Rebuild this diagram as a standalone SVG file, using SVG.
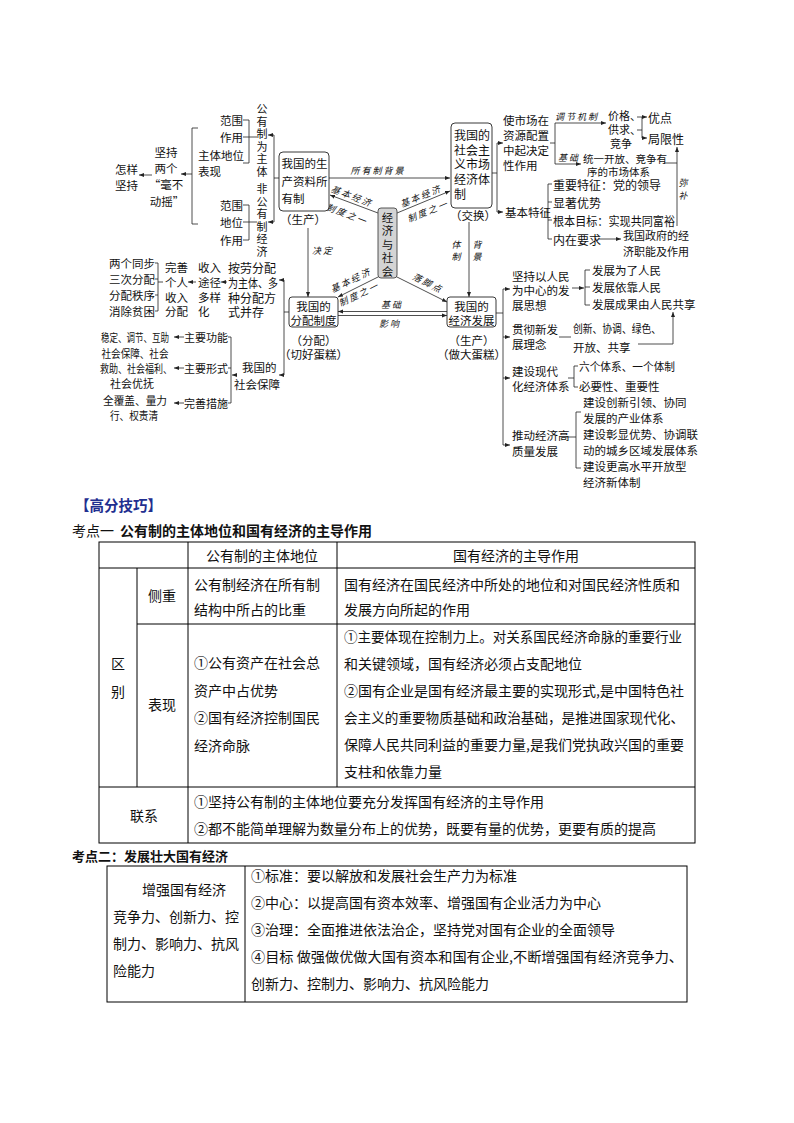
<svg xmlns="http://www.w3.org/2000/svg" width="794" height="1123" viewBox="0 0 794 1123">
<defs>
<style>
text{font-family:"Noto Sans CJK SC","Noto Sans",sans-serif;fill:#111;dominant-baseline:central}
.t{font-size:11.5px}
.b{font-size:12px}
.v{font-size:11px;text-anchor:middle}
.s{font-size:9px;font-style:italic;letter-spacing:2px}
.c{text-anchor:middle}
.e{text-anchor:end}
.tb{font-size:14px}
.ln{stroke:#222;stroke-width:0.8;fill:none}
.ar{marker-end:url(#ah)}
.box{fill:#fff;stroke:#222;stroke-width:0.9}
.tl{stroke:#000;stroke-width:1;fill:none}
.cv{font-size:11.5px;text-anchor:middle}
</style>
<marker id="ah" viewBox="0 0 10 10" refX="10" refY="5" markerWidth="5" markerHeight="5" markerUnits="userSpaceOnUse" orient="auto"><path d="M0,1 L10,5 L0,9 z" fill="#222"/></marker>
</defs>
<rect width="794" height="1123" fill="#fff"/>

<g id="connectors">
<path class="ln ar" d="M152,175 H139"/>
<path class="ln ar" d="M192,174 H181"/>
<path class="ln" d="M198,128 H192 V224 H198"/>
<path class="ln" d="M243,120 H249 V163 H243 M243,137 H257"/>
<path class="ln" d="M243,205 H249 V240 H243 M243,222 H257"/>
<path class="ln" d="M279,178 H274 M274,135 V222"/>
<path class="ln ar" d="M274,135 H268"/>
<path class="ln ar" d="M274,222 H268"/>
<path class="ln ar" d="M378,213 L330,195"/>
<path class="ln ar" d="M397,213 L450,191"/>
<path class="ln ar" d="M378,277 L338,297"/>
<path class="ln ar" d="M397,277 L447,302"/>
<path class="ln ar" d="M329,178 H450"/>
<path class="ln ar" d="M308,228 V297"/>
<path class="ln ar" d="M469,222 V297"/>
<path class="ln ar" d="M447,311.5 H338"/>
<path class="ln ar" d="M338,315.5 H447"/>
<path class="ln" d="M492,173 H497 M497,143 V212"/>
<path class="ln ar" d="M497,143 H503"/>
<path class="ln ar" d="M497,212 H503"/>
<path class="ln" d="M550,143 H555 M555,123 V164"/>
<path class="ln ar" d="M555,123 H606"/>
<path class="ln ar" d="M555,164 H581"/>
<path class="ln" d="M637,117 H642 M637,130 H642 M642,117 V138"/>
<path class="ln ar" d="M642,117 H647"/>
<path class="ln ar" d="M642,138 H647"/>
<path class="ln" d="M664,163 H677"/>
<path class="ln ar" d="M677,226 V147"/>
<path class="ln" d="M544,212 H548 M548,184 V239 M548,184 H552 M548,202 H552 M548,220 H552 M548,239 H552"/>
<path class="ln ar" d="M599,239 H621"/>
<path class="ln" d="M496,313 H503 M503,289 V445"/>
<path class="ln ar" d="M503,289 H510"/>
<path class="ln ar" d="M503,337 H510"/>
<path class="ln ar" d="M503,378 H510"/>
<path class="ln ar" d="M503,445 H510"/>
<path class="ln ar" d="M572,288 H584"/>
<path class="ln" d="M585,270 V305 M585,270 H590 M585,287 H590 M585,305 H590"/>
<path class="ln" d="M559,337 H571"/>
<path class="ln ar" d="M638,344 H673 V312"/>
<path class="ln" d="M568,378 H574 M574,366 V387 M574,366 H578 M574,387 H578"/>
<path class="ln" d="M566,437 H576 M576,412 V468 M576,412 H581 M576,468 H581"/>
<path class="ln" d="M289,312 H284 M284,280 V375"/>
<path class="ln ar" d="M284,280 H279"/>
<path class="ln ar" d="M284,375 H279"/>
<path class="ln ar" d="M227,282 H221"/>
<path class="ln ar" d="M196,282 H188"/>
<path class="ln" d="M155,263 H158 V311 H155 M155,279 H158 M155,295 H158 M158,282 H163"/>
<path class="ln ar" d="M237,375 H232"/>
<path class="ln" d="M231,337 V403 M228,337 H231 M228,368 H231 M228,403 H231"/>
<path class="ln ar" d="M184,337 H174"/>
<path class="ln ar" d="M184,368 H174"/>
<path class="ln ar" d="M184,403 H174"/>
</g>

<g id="connector-labels">
<text class="s c" x="378" y="170">所有制背景</text>
<text class="s c" x="323" y="250">决定</text>
<text class="s c"><tspan x="457" y="244">体</tspan><tspan x="457" y="256">制</tspan></text>
<text class="s c"><tspan x="478" y="244">背</tspan><tspan x="478" y="256">景</tspan></text>
<text class="s c" x="392" y="304">基础</text>
<text class="s c" x="390" y="323">影响</text>
<text class="s c" transform="translate(352,196) rotate(21)">基本经济</text>
<text class="s c" transform="translate(347,214) rotate(21)">制度之一</text>
<text class="s c" transform="translate(421,196) rotate(-22)">基本经济</text>
<text class="s c" transform="translate(428,211) rotate(-22)">制度之一</text>
<text class="s c" transform="translate(351,280) rotate(-26)">基本经济</text>
<text class="s c" transform="translate(359,294) rotate(-26)">制度之一</text>
<text class="s c" transform="translate(428,283) rotate(27)">落脚点</text>
<text class="s c" x="577" y="116">调节机制</text>
<text class="s c" x="569" y="157">基础</text>
<text class="s c"><tspan x="684" y="182">弥</tspan><tspan x="684" y="195">补</tspan></text>
</g>

<g id="n-zenyang"><text class="t"><tspan x="115" y="169">怎样</tspan><tspan x="115" y="185">坚持</tspan></text></g>
<g id="n-liangge">
<text class="t c"><tspan x="166" y="152">坚持</tspan><tspan x="166" y="168">两个</tspan><tspan x="166" y="184">“毫不</tspan><tspan x="167" y="201">动摇”</tspan></text>
</g>
<g id="n-zhuti"><text class="t"><tspan x="198" y="155">主体地位</tspan><tspan x="198" y="171">表现</tspan></text></g>
<g id="n-fw1"><text class="t e"><tspan x="243" y="120">范围</tspan><tspan x="243" y="137">作用</tspan></text></g>
<g id="n-fw2"><text class="t e"><tspan x="243" y="205">范围</tspan><tspan x="243" y="222">地位</tspan><tspan x="243" y="240">作用</tspan></text></g>
<g id="n-gongyou">
<text class="v"><tspan x="262" y="108">公</tspan><tspan x="262" y="120.6">有</tspan><tspan x="262" y="133.2">制</tspan><tspan x="262" y="145.8">为</tspan><tspan x="262" y="158.4">主</tspan><tspan x="262" y="171">体</tspan></text>
</g>
<g id="n-feigongyou">
<text class="v"><tspan x="262" y="188">非</tspan><tspan x="262" y="200.6">公</tspan><tspan x="262" y="213.2">有</tspan><tspan x="262" y="225.8">制</tspan><tspan x="262" y="238.4">经</tspan><tspan x="262" y="251">济</tspan></text>
</g>

<g id="n-ownership">
<rect class="box" x="279" y="152" width="50" height="59" rx="4"/>
<text class="t"><tspan x="281.5" y="163">我国的生</tspan><tspan x="281.5" y="181">产资料所</tspan><tspan x="281.5" y="198">有制</tspan></text>
<text class="t" x="280" y="219">（生产）</text>
</g>
<g id="n-market">
<rect class="box" x="451" y="123" width="41" height="85" rx="4"/>
<text class="b"><tspan x="454" y="134">我国的</tspan><tspan x="454" y="148.5">社会主</tspan><tspan x="454" y="163">义市场</tspan><tspan x="454" y="178">经济体</tspan><tspan x="454" y="192.5">制</tspan></text>
<text class="t" x="450" y="215">（交换）</text>
</g>
<g id="n-center">
<rect x="378" y="208" width="19" height="70" rx="3" fill="#d4d4d4" stroke="#444" stroke-width="0.9"/>
<text class="cv"><tspan x="387.5" y="216.5">经</tspan><tspan x="387.5" y="230">济</tspan><tspan x="387.5" y="243.5">与</tspan><tspan x="387.5" y="257">社</tspan><tspan x="387.5" y="270.5">会</tspan></text>
</g>
<g id="n-distribution">
<rect class="box" x="289" y="297" width="49" height="30" rx="3"/>
<text class="t c"><tspan x="313.5" y="306">我国的</tspan><tspan x="313.5" y="320">分配制度</tspan></text>
<text class="t c"><tspan x="313.5" y="340">（分配）</tspan><tspan x="313.5" y="354">（切好蛋糕）</tspan></text>
</g>
<g id="n-development">
<rect class="box" x="447" y="297" width="49" height="30" rx="3"/>
<text class="t c"><tspan x="471.5" y="306">我国的</tspan><tspan x="471.5" y="320">经济发展</tspan></text>
<text class="t c"><tspan x="471.5" y="340">（生产）</tspan><tspan x="471.5" y="354">（做大蛋糕）</tspan></text>
</g>

<g id="n-decisive">
<text class="t"><tspan x="503" y="120">使市场在</tspan><tspan x="503" y="135">资源配置</tspan><tspan x="503" y="150">中起决定</tspan><tspan x="503" y="165">性作用</tspan></text>
</g>
<g id="n-price"><text class="t" style="font-size:11px"><tspan x="608" y="115">价格、</tspan><tspan x="608" y="129">供求、</tspan><tspan x="610" y="143">竞争</tspan></text></g>
<g id="n-merit"><text class="b" x="648" y="117">优点</text></g>
<g id="n-limit"><text class="b" x="648" y="138">局限性</text></g>
<g id="n-system"><text class="t" style="font-size:10.5px"><tspan x="583" y="158">统一开放、竞争有</tspan><tspan x="587" y="171">序的市场体系</tspan></text></g>
<g id="n-features">
<text class="t" x="505" y="212">基本特征</text>
<text class="b" x="553" y="184">重要特征：党的领导</text>
<text class="b" x="553" y="202">显著优势</text>
<text class="b" x="553" y="220" textLength="122" lengthAdjust="spacingAndGlyphs">根本目标：实现共同富裕</text>
<text class="b" x="553" y="239">内在要求</text>
</g>
<g id="n-gov"><text class="t" style="font-size:11px"><tspan x="623" y="235">我国政府的经</tspan><tspan x="623" y="251">济职能及作用</tspan></text></g>

<g id="n-people">
<text class="t"><tspan x="512" y="276">坚持以人民</tspan><tspan x="512" y="290">为中心的发</tspan><tspan x="512" y="305">展思想</tspan></text>
<text class="t" x="592" y="270">发展为了人民</text><text class="t" x="592" y="287">发展依靠人民</text><text class="t" x="592" y="304">发展成果由人民共享</text>
</g>
<g id="n-concept">
<text class="t"><tspan x="512" y="329">贯彻新发</tspan><tspan x="512" y="344">展理念</tspan></text>
<text class="t" x="573" y="328" textLength="88" lengthAdjust="spacingAndGlyphs">创新、协调、绿色、</text>
<text class="t" x="573" y="347">开放、共享</text>
</g>
<g id="n-modern">
<text class="t"><tspan x="512" y="371">建设现代</tspan><tspan x="512" y="386">化经济体系</tspan></text>
<text class="t" x="579" y="366" textLength="96" lengthAdjust="spacingAndGlyphs">六个体系、一个体制</text>
<text class="t" x="579" y="386">必要性、重要性</text>
</g>
<g id="n-quality">
<text class="t"><tspan x="512" y="435">推动经济高</tspan><tspan x="512" y="451">质量发展</tspan></text>
<text class="t"><tspan x="583" y="402">建设创新引领、协同</tspan><tspan x="583" y="418">发展的产业体系</tspan></text>
<text class="t"><tspan x="583" y="434">建设彰显优势、协调联</tspan><tspan x="583" y="450">动的城乡区域发展体系</tspan></text>
<text class="t"><tspan x="583" y="466">建设更高水平开放型</tspan><tspan x="583" y="482">经济新体制</tspan></text>
</g>

<g id="n-anlao">
<text class="b" x="228" y="267">按劳分配</text>
<text class="b" x="228" y="282" textLength="50" lengthAdjust="spacingAndGlyphs">为主体、多</text>
<text class="b" x="228" y="297">种分配方</text><text class="b" x="228" y="311">式并存</text>
</g>
<g id="n-income"><text class="t"><tspan x="198" y="267">收入</tspan><tspan x="198" y="282">途径</tspan><tspan x="198" y="297">多样</tspan><tspan x="198" y="311">化</tspan></text></g>
<g id="n-perfect"><text class="t"><tspan x="165" y="267">完善</tspan><tspan x="165" y="282">个人</tspan><tspan x="165" y="297">收入</tspan><tspan x="165" y="311">分配</tspan></text></g>
<g id="n-four">
<text class="t e" x="155" y="263">两个同步</text><text class="t e" x="155" y="279">三次分配</text>
<text class="t e" x="155" y="295">分配秩序</text><text class="t e" x="155" y="311">消除贫困</text>
</g>
<g id="n-security"><text class="t"><tspan x="242" y="367">我国的</tspan><tspan x="234" y="384">社会保障</tspan></text></g>
<g id="n-sec-items">
<text class="t e" style="font-size:11px" x="228" y="337">主要功能</text>
<text class="t e" style="font-size:11px" x="228" y="368">主要形式</text>
<text class="t e" style="font-size:11px" x="228" y="403">完善措施</text>
</g>
<g id="n-sec-func"><text class="t e" style="font-size:11px" x="169" y="337" textLength="68" lengthAdjust="spacingAndGlyphs">稳定、调节、互助</text></g>
<g id="n-sec-form">
<text class="t c" style="font-size:11px" x="135" y="353" textLength="67" lengthAdjust="spacingAndGlyphs">社会保障、社会</text>
<text class="t c" style="font-size:11px" x="136" y="368" textLength="72" lengthAdjust="spacingAndGlyphs">救助、社会福利、</text>
<text class="t c" style="font-size:11px" x="132" y="383">社会优抚</text>
</g>
<g id="n-sec-measure">
<text class="t c" style="font-size:11px" x="135" y="400" textLength="64" lengthAdjust="spacingAndGlyphs">全覆盖、量力</text>
<text class="t c" style="font-size:11px" x="134" y="415" textLength="48" lengthAdjust="spacingAndGlyphs">行、权责清</text>
</g>

<g id="headings">
<text x="75" y="504" style="font-size:14.5px;font-weight:bold;fill:#1f2f90">【高分技巧】</text>
<text x="72" y="530" style="font-size:14px"><tspan>考点一</tspan><tspan dx="6" style="font-weight:bold">公有制的主体地位和国有经济的主导作用</tspan></text>
<text x="72" y="855" style="font-size:13px;font-weight:bold">考点二：发展壮大国有经济</text>
</g>

<g id="table1">
<rect class="tl" x="99" y="542" width="596" height="301"/>
<path class="tl" d="M99,568 H695 M137,624 H695 M99,787 H695 M137,568 V787 M188,542 V843 M337,542 V787"/>
<text class="tb c" x="262" y="555">公有制的主体地位</text>
<text class="tb c" x="516" y="555">国有经济的主导作用</text>
<text class="tb c" x="162" y="595">侧重</text>
<text class="tb" x="194" y="584">公有制经济在所有制</text>
<text class="tb" x="194" y="609">结构中所占的比重</text>
<text class="tb" x="344" y="584">国有经济在国民经济中所处的地位和对国民经济性质和</text>
<text class="tb" x="344" y="609">发展方向所起的作用</text>
<text class="tb c" x="118" y="663">区</text>
<text class="tb c" x="118" y="691">别</text>
<text class="tb c" x="162" y="704">表现</text>
<text class="tb" x="194" y="662">①公有资产在社会总</text>
<text class="tb" x="194" y="690">资产中占优势</text>
<text class="tb" x="194" y="717">②国有经济控制国民</text>
<text class="tb" x="194" y="745">经济命脉</text>
<text class="tb" x="344" y="636" textLength="338" lengthAdjust="spacingAndGlyphs">①主要体现在控制力上。对关系国民经济命脉的重要行业</text>
<text class="tb" x="344" y="663">和关键领域，国有经济必须占支配地位</text>
<text class="tb" x="344" y="690" textLength="340" lengthAdjust="spacingAndGlyphs">②国有企业是国有经济最主要的实现形式,是中国特色社</text>
<text class="tb" x="344" y="717" textLength="340" lengthAdjust="spacingAndGlyphs">会主义的重要物质基础和政治基础，是推进国家现代化、</text>
<text class="tb" x="344" y="744" textLength="340" lengthAdjust="spacingAndGlyphs">保障人民共同利益的重要力量,是我们党执政兴国的重要</text>
<text class="tb" x="344" y="771">支柱和依靠力量</text>
<text class="tb c" x="144" y="815">联系</text>
<text class="tb" x="194" y="801">①坚持公有制的主体地位要充分发挥国有经济的主导作用</text>
<text class="tb" x="194" y="828">②都不能简单理解为数量分布上的优势，既要有量的优势，更要有质的提高</text>
</g>

<g id="table2">
<rect class="tl" x="107" y="866" width="580" height="136"/>
<path class="tl" d="M245,866 V1002"/>
<text class="tb c" x="184" y="889">增强国有经济</text>
<text class="tb" x="113" y="916">竞争力、创新力、控</text>
<text class="tb" x="113" y="943">制力、影响力、抗风</text>
<text class="tb" x="113" y="970">险能力</text>
<text class="tb" x="251" y="875">①标准：要以解放和发展社会生产力为标准</text>
<text class="tb" x="251" y="902">②中心：以提高国有资本效率、增强国有企业活力为中心</text>
<text class="tb" x="251" y="929">③治理：全面推进依法治企，坚持党对国有企业的全面领导</text>
<text class="tb" x="251" y="956" textLength="432" lengthAdjust="spacingAndGlyphs">④目标 做强做优做大国有资本和国有企业,不断增强国有经济竞争力、</text>
<text class="tb" x="251" y="983">创新力、控制力、影响力、抗风险能力</text>
</g>
</svg>
